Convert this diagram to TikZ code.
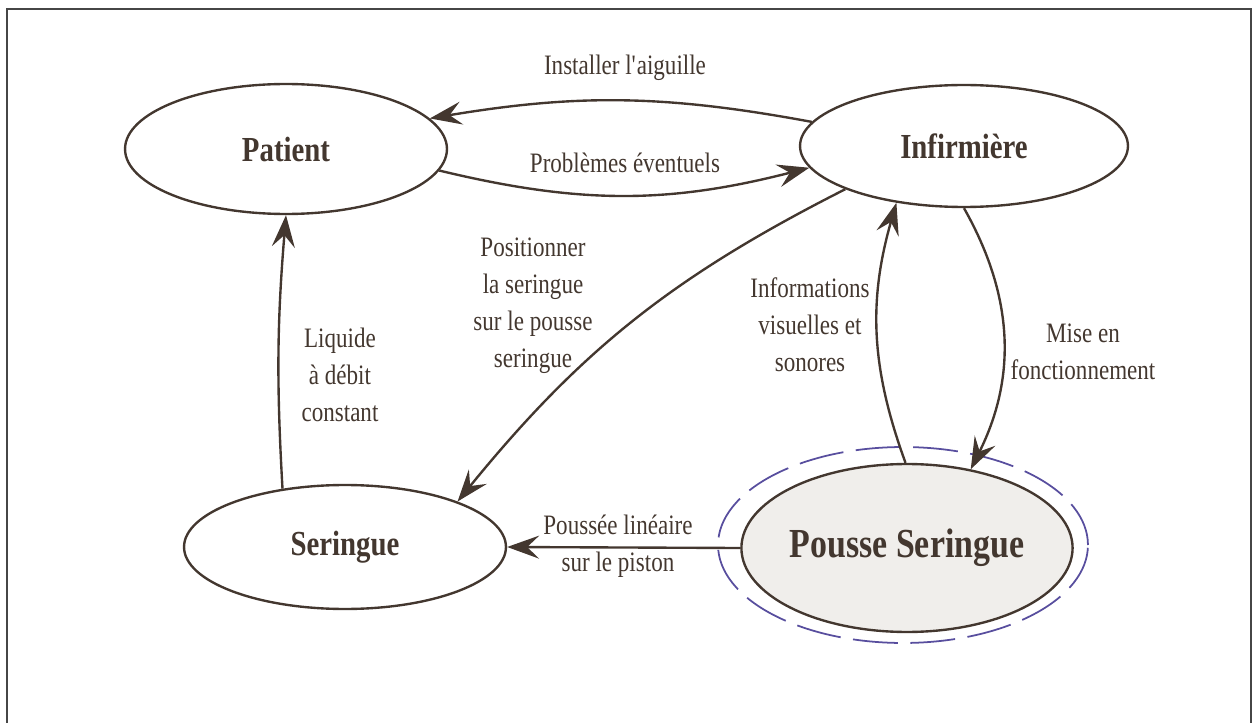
\documentclass[tikz,border=0pt]{standalone}
\usepackage{fontspec}
\setmainfont{Liberation Serif}[FakeStretch=0.82]
\usetikzlibrary{arrows.meta,shapes.geometric}
\definecolor{brun}{RGB}{67,55,47}
\definecolor{cadre}{RGB}{70,70,70}
\definecolor{halo}{RGB}{88,78,158}
\definecolor{fondps}{RGB}{240,238,235}

\begin{document}
\begin{tikzpicture}[x=0.02cm,y=-0.02cm,
  etat/.style={ellipse,draw=brun,line width=1.35pt,inner sep=0pt,
    minimum width=6.44cm,minimum height=2.6cm,text=brun,
    font=\fontsize{20}{24}\selectfont\bfseries},
  fleche/.style={draw=brun,line width=1.35pt,
    -{Stealth[length=0.64cm,width=0.46cm,inset=0.24cm]}},
  lbl/.style={text=brun,align=center,inner sep=0pt,
    font=\fontsize{16}{21}\selectfont}]
  \useasboundingbox (0,0) rectangle (1252,723);
  \draw[cadre,line width=1.5pt] (7,9) rectangle (1251,760);
  % les quatre acteurs
  \node[etat] (pat) at (286,149) {Patient};
  \node[etat,minimum width=6.56cm,minimum height=2.44cm] (inf) at (964,146) {Infirmière};
  \node[etat,minimum height=2.48cm] (ser) at (345,547) {Seringue};
  \node[ellipse,draw=halo,line width=1pt,dash pattern=on 0.9cm off 0.25cm,
    minimum width=7.4cm,minimum height=3.92cm] (psx) at (903,545) {};
  \node[etat,fill=fondps,minimum height=3.36cm,
    font=\fontsize{23.5}{28}\selectfont\bfseries] (ps) at (907,548) {Pousse Seringue};
  % flux entre patient et infirmière
  \draw[fleche] (inf.171) to[bend right=10] (pat.12);
  \draw[fleche] (pat.352) to[bend right=14] (inf.188);
  \node[lbl] (l-aig) at (625,68) {Installer l\textquotesingle aiguille};
  \node[lbl] (l-pb) at (625,163) {Problèmes éventuels};
  % mise en place
  \draw[fleche] (inf.200) to[bend right=12] (ser.22);
  \node[lbl] (l-pos) at (533,306) {Positionner\\la seringue\\sur le pousse\\seringue};
  % boucle infirmière / pousse seringue
  \draw[fleche] (ps.91) to[bend left=18] (inf.220);
  \draw[fleche] (inf.270) to[bend left=28] (ps.51);
  \node[lbl] (l-info) at (810,325) {Informations\\visuelles et\\sonores};
  \node[lbl] (l-mise) at (1083,352) {Mise en\\fonctionnement};
  % action mécanique et injection
  \draw[fleche] (ps.180) -- (ser.0);
  \node[lbl] (l-pou) at (618,546) {Poussée linéaire\\sur le piston};
  \draw[fleche] (ser.137) to[bend left=4] (pat.270);
  \node[lbl] (l-liq) at (340,375) {Liquide\\à débit\\constant};
\end{tikzpicture}
\end{document}
